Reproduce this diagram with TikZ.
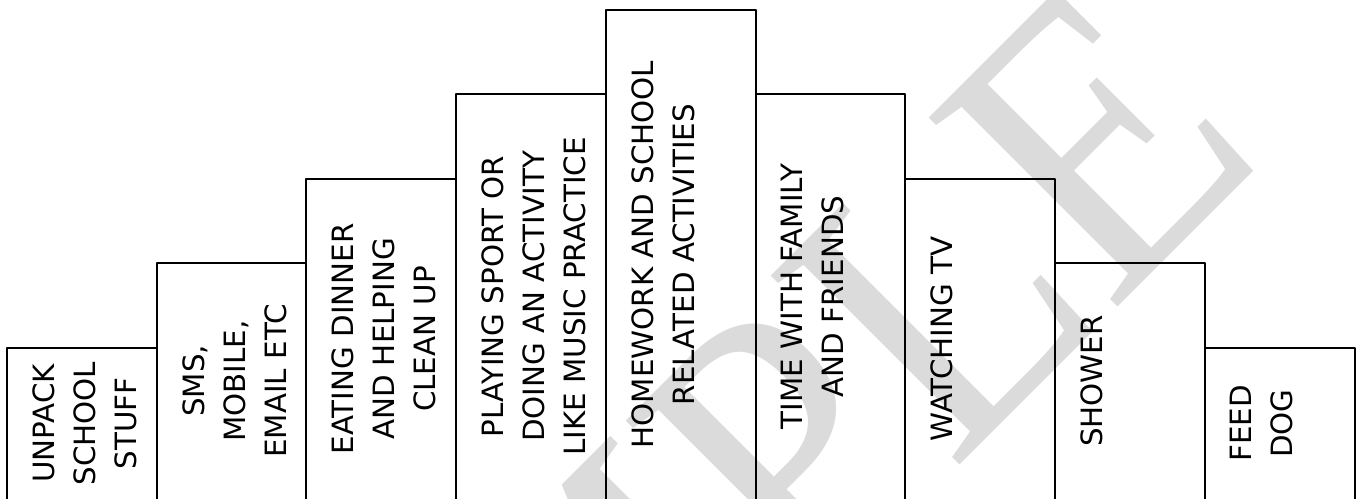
\documentclass[tikz,border=0pt]{standalone}
\usepackage{fontspec}
\setmainfont{DejaVu Sans}
\newfontfamily\stampfont{Liberation Serif}
\usepackage{tikz}
\tikzset{
  bar/.style={line width=1.5pt},
  task/.style={rotate=90,anchor=north,align=center,inner sep=0pt,font=\fontsize{22}{31}\selectfont},
}

\begin{document}
\begin{tikzpicture}[line cap=round,line join=round,x=0.75pt,y=0.75pt]
\clip(0,0) rectangle (1361,499);
% watermark
\node[rotate=45,xscale=0.9,anchor=base west,inner sep=0pt,text=gray!28,font=\stampfont\fontsize{306}{306}\selectfont] (stamp) at (245,-681) {SAMPLE};
% steps
\draw[bar] (7,-5)-- (7,151)-- (157,151)-- (157,-5);
\draw[bar] (157,-5)-- (157,236)-- (306,236)-- (306,-5);
\draw[bar] (306,-5)-- (306,320)-- (456,320)-- (456,-5);
\draw[bar] (456,-5)-- (456,405)-- (606,405)-- (606,-5);
\draw[bar] (606,-5)-- (606,489)-- (756,489)-- (756,-5);
\draw[bar] (756,-5)-- (756,405)-- (905,405)-- (905,-5);
\draw[bar] (905,-5)-- (905,320)-- (1055,320)-- (1055,-5);
\draw[bar] (1055,-5)-- (1055,236)-- (1205,236)-- (1205,-5);
\draw[bar] (1205,-5)-- (1205,151)-- (1355,151)-- (1355,-5);
% labels
\node[task] (unpack) at (32,75.5) {UNPACK\\SCHOOL\\STUFF};
\node[task] (sms) at (182,118) {SMS,\\MOBILE,\\EMAIL ETC};
\node[task] (dinner) at (331,160) {EATING DINNER\\AND HELPING\\CLEAN UP};
\node[task] (sport) at (481,202.5) {PLAYING SPORT OR\\DOING AN ACTIVITY\\LIKE MUSIC PRACTICE};
\node[task] (homework) at (631,244.5) {HOMEWORK AND SCHOOL\\RELATED ACTIVITIES};
\node[task] (family) at (781,202.5) {TIME WITH FAMILY\\AND FRIENDS};
\node[task] (tv) at (930,160) {WATCHING TV};
\node[task] (shower) at (1080,118) {SHOWER};
\node[task] (dog) at (1230,75.5) {FEED\\DOG};
\end{tikzpicture}
\end{document}
